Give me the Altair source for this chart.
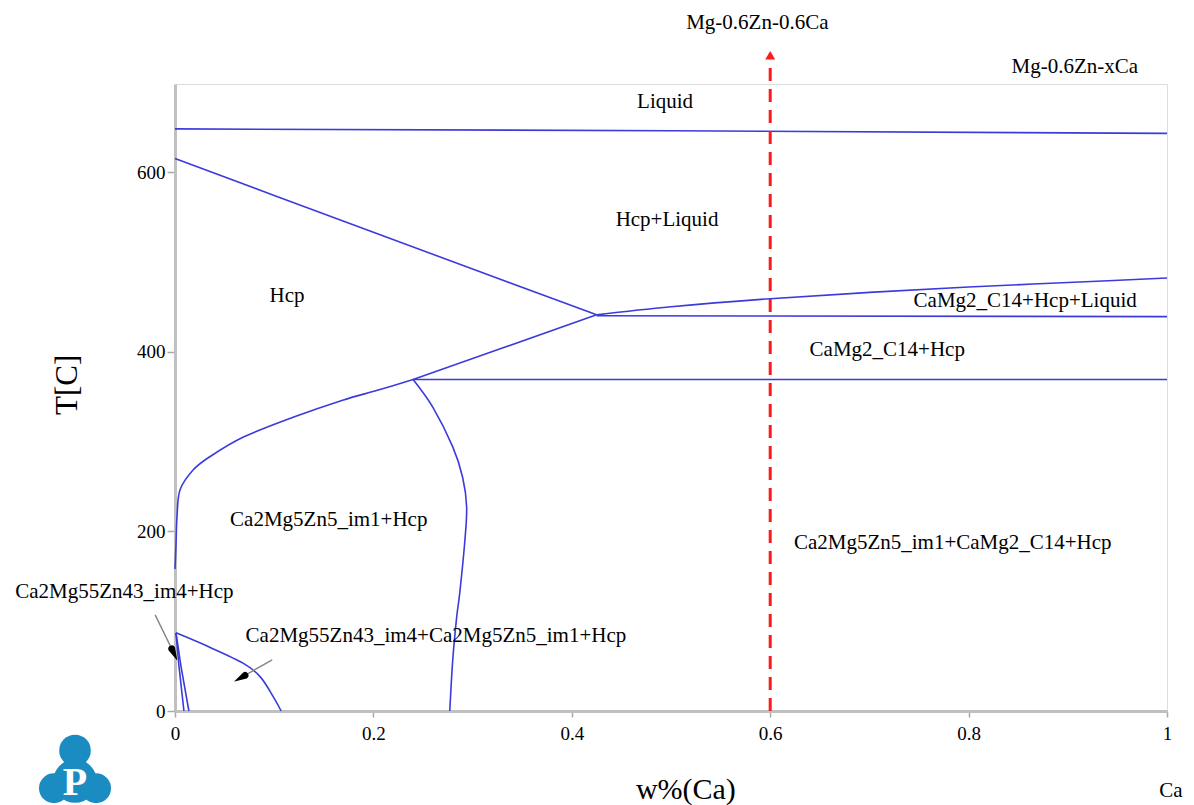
import altair as alt
import pandas as pd

# ---------------- data (w%(Ca), T[C]) ----------------
liquidus_x = [0.0, 0.5, 1.0]
liquidus_t = [648, 646, 643]

hcp_solidus_x = [0.0, 0.1, 0.2, 0.3, 0.425]
hcp_solidus_t = [615, 574, 533, 492, 441]

c14_liquid_x = [0.425, 0.5, 0.6, 0.7, 0.8, 0.9, 1.0]
c14_liquid_t = [441, 450, 459, 466, 472, 477, 482]

c14_solidus_x = [0.425, 1.0]
c14_solidus_t = [440, 439]

invariant_x = [0.24, 1.0]
invariant_t = [369, 369]

hcp_c14_x = [0.24, 0.33, 0.425]
hcp_c14_t = [369, 404, 441]

solvus_x = [0.0, 0.001, 0.002, 0.005, 0.018, 0.035, 0.069, 0.119, 0.169, 0.204, 0.24]
solvus_t = [158, 185, 216, 246, 268, 283, 305, 327, 346, 357, 369]

im1_x = [0.24, 0.26, 0.28, 0.29, 0.294, 0.292, 0.287, 0.284, 0.28, 0.277]
im1_t = [369, 338, 294, 260, 227, 187, 131, 105, 57, 0]

im4_arc_x = [0.001, 0.035, 0.069, 0.086, 0.099, 0.107]
im4_arc_t = [87, 71, 53, 38, 16, 0]

im4_left_x = [0.001, 0.004, 0.009]
im4_left_t = [87, 50, 0]

im4_right_x = [0.001, 0.006, 0.014]
im4_right_t = [87, 50, 0]

section_x = [0.6, 0.6]
section_t = [0, 722]
section_head_x = [0.6]
section_head_t = [730]

# annotation arrows: start, arrowhead base, tip
arrow1_x = [-0.020, -0.0032, 0.002]
arrow1_t = [107, 69, 57]
arrow2_x = [0.098, 0.0705, 0.060]
arrow2_t = [57, 39.6, 33]

labels = ["Liquid", "Hcp+Liquid", "Hcp", "CaMg2_C14+Hcp+Liquid", "CaMg2_C14+Hcp",
          "Ca2Mg5Zn5_im1+Hcp", "Ca2Mg5Zn5_im1+CaMg2_C14+Hcp", "Ca2Mg55Zn43_im4+Hcp",
          "Ca2Mg55Zn43_im4+Ca2Mg5Zn5_im1+Hcp", "Mg-0.6Zn-0.6Ca", "Mg-0.6Zn-xCa", "Ca"]
labels_x = [0.494, 0.496, 0.113, 0.857, 0.718, 0.155, 0.784, -0.051, 0.263, 0.587, 0.907, 1.004]
labels_t = [678, 547, 462, 456, 402, 213, 187, 133, 84, 766, 717, -89]

x_ticks = [0, 0.2, 0.4, 0.6, 0.8, 1]
y_ticks = [0, 200, 400, 600]

logo_x = [-0.1008, -0.122, -0.0796, -0.1008]
logo_t = [-44, -86, -86, -78]
logo_size = [1000, 900, 900, 1900]

# ---------------- build tables ----------------
straight = {
    "liquidus": (liquidus_x, liquidus_t),
    "hcp_solidus": (hcp_solidus_x, hcp_solidus_t),
    "c14_solidus": (c14_solidus_x, c14_solidus_t),
    "invariant": (invariant_x, invariant_t),
    "hcp_c14": (hcp_c14_x, hcp_c14_t),
    "im4_left": (im4_left_x, im4_left_t),
    "im4_right": (im4_right_x, im4_right_t),
}
curved = {
    "c14_liquid": (c14_liquid_x, c14_liquid_t),
    "solvus": (solvus_x, solvus_t),
    "im1": (im1_x, im1_t),
    "im4_arc": (im4_arc_x, im4_arc_t),
}

def to_df(d):
    rows = []
    for name, (xs, ts) in d.items():
        for i, (xv, tv) in enumerate(zip(xs, ts)):
            rows.append({"seg": name, "x": xv, "t": tv, "o": i})
    return pd.DataFrame(rows)

FONT = "Liberation Serif"
X = alt.Scale(domain=[0, 1], nice=False, zero=False)
Y = alt.Scale(domain=[0, 698], nice=False, zero=False)
XAXIS = alt.Axis(values=x_ticks, format="~g", tickSize=6, labelPadding=7, labelFont=FONT)
YAXIS = alt.Axis(values=y_ticks, tickSize=8, labelPadding=2, labelFont=FONT)

def xenc():
    return alt.X("x:Q", scale=X, axis=XAXIS, title=None)

def yenc():
    return alt.Y("t:Q", scale=Y, axis=YAXIS, title=None)

BLUE = "#3b3bdc"
lines_straight = alt.Chart(to_df(straight)).mark_line(color=BLUE, strokeWidth=1.6, clip=False).encode(
    x=xenc(), y=yenc(), detail="seg:N", order="o:Q")
lines_curved = alt.Chart(to_df(curved)).mark_line(
    color=BLUE, strokeWidth=1.6, clip=False, interpolate="cardinal").encode(
    x=xenc(), y=yenc(), detail="seg:N", order="o:Q")

section = alt.Chart(pd.DataFrame({"x": section_x, "t": section_t})).mark_line(
    color="#ff1a1a", strokeWidth=3, strokeDash=[13, 8], clip=False).encode(x=xenc(), y=yenc())
section_head = alt.Chart(pd.DataFrame({"x": section_head_x, "t": section_head_t})).mark_point(
    shape="triangle-up", filled=True, color="#ff1a1a", size=100, opacity=1, clip=False).encode(
    x=xenc(), y=yenc())

shaft_rows, head_rows = [], []
for k, (xs, ts) in enumerate([(arrow1_x, arrow1_t), (arrow2_x, arrow2_t)]):
    shaft_rows += [{"a": k, "x": xs[0], "t": ts[0], "o": 0}, {"a": k, "x": xs[1], "t": ts[1], "o": 1}]
    head_rows += [{"a": k, "x": xs[1], "t": ts[1], "o": 0, "w": 7.0},
                  {"a": k, "x": xs[2], "t": ts[2], "o": 1, "w": 0.5}]
arrows = alt.Chart(pd.DataFrame(shaft_rows)).mark_line(color="#888888", strokeWidth=1.5, clip=False).encode(
    x=xenc(), y=yenc(), detail="a:N", order="o:Q")
heads = alt.Chart(pd.DataFrame(head_rows)).mark_trail(color="black", clip=False).encode(
    x=xenc(), y=yenc(), detail="a:N", order="o:Q",
    size=alt.Size("w:Q", scale=None, legend=None))

text_df = pd.DataFrame({"label": labels, "x": labels_x, "t": labels_t})
texts = alt.Chart(text_df).mark_text(font=FONT, fontSize=21, color="black", clip=False).encode(
    x=xenc(), y=yenc(), text="label:N")

xtitle = alt.Chart(pd.DataFrame({"x": [0.515], "t": [-88], "label": ["w%(Ca)"]})).mark_text(
    font=FONT, fontSize=30, color="black", clip=False).encode(x=xenc(), y=yenc(), text="label:N")
ytitle = alt.Chart(pd.DataFrame({"x": [-0.108], "t": [363], "label": ["T[C]"]})).mark_text(
    font=FONT, fontSize=31, color="black", angle=270, clip=False).encode(x=xenc(), y=yenc(), text="label:N")

logo_df = pd.DataFrame({"x": logo_x, "t": logo_t, "s": logo_size})
logo = alt.Chart(logo_df).mark_point(shape="circle", filled=True, color="#1b8cc2", opacity=1, clip=False).encode(
    x=xenc(), y=yenc(), size=alt.Size("s:Q", scale=None, legend=None))
logo_p = alt.Chart(pd.DataFrame({"x": [-0.1008], "t": [-80], "label": ["P"]})).mark_text(
    font=FONT, fontSize=40, fontWeight="bold", color="white", clip=False).encode(
    x=xenc(), y=yenc(), text="label:N")

chart = alt.layer(lines_straight, lines_curved, arrows, heads, section, section_head, texts,
                  xtitle, ytitle, logo, logo_p).properties(
    width=992, height=627,
    autosize=alt.AutoSizeParams(type="none"),
    padding={"left": 167, "top": 76, "right": 19, "bottom": 94},
).configure_view(stroke="#b8b8b8", strokeWidth=2).configure(background="white").configure_axis(
    labelFont=FONT, labelFontSize=19, labelColor="black", domainColor="#c0c0c0", domainWidth=3,
    tickColor="#a8a8a8", tickWidth=1.5, grid=False, labelFlush=False)

chart.save("out.html", embed_options={"renderer": "svg", "actions": False})
